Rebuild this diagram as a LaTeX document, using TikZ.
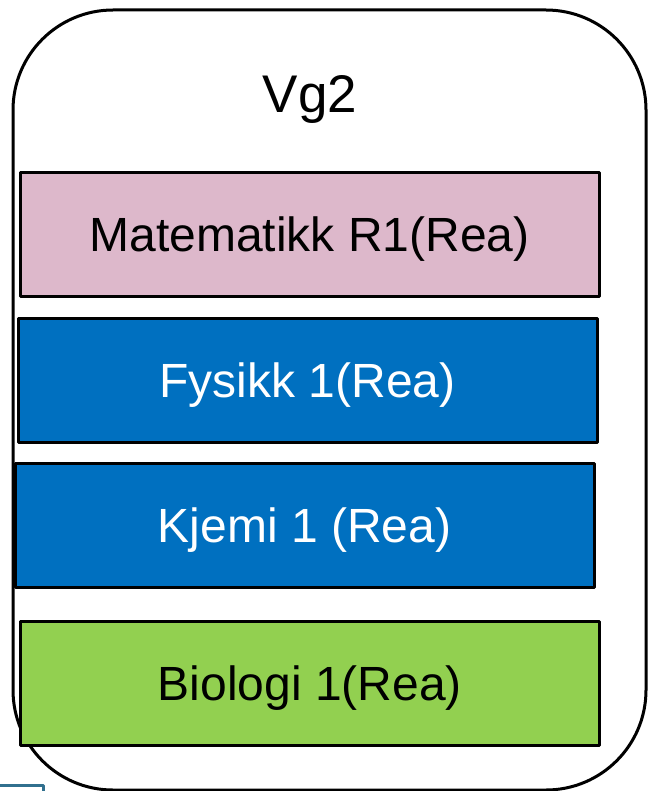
\documentclass[tikz,border=0pt]{standalone}
\usepackage{fontspec}
\setmainfont{Liberation Sans}
\usetikzlibrary{positioning}
\definecolor{rosa}{HTML}{DDB8CB}
\definecolor{realblaa}{HTML}{0070C0}
\definecolor{gronn}{HTML}{92D050}
\definecolor{petrol}{HTML}{31708E}

\begin{document}
\begin{tikzpicture}[line cap=round,line join=round,x=1pt,y=-1pt,
  fag/.style={draw=black, line width=3pt, minimum width=579pt, minimum height=124pt, inner sep=0pt, text depth=0pt, font=\fontsize{48}{58}\selectfont}]
\useasboundingbox (0,0) rectangle (648,791);

% Outer frame
\draw [line width=3pt, rounded corners=100pt] (13,10) rectangle (646,790);
\node [anchor=base, font=\fontsize{53}{63}\selectfont] (vg) at (310,113) {Vg2};

% Subjects
\node [fag, fill=rosa] (mat) at (309.5,234.5) {Matematikk R1(Rea)};
\node [fag, fill=realblaa, text=white] (fys) at (307.5,380.5) {Fysikk 1(Rea)};
\node [fag, fill=realblaa, text=white] (kje) at (304.5,525) {Kjemi 1 (Rea)};
\node [fag, fill=gronn] (bio) at (310,683.5) {Biologi 1(Rea)};

% Cut-off box at the bottom
\draw [line width=3pt, color=petrol] (-5,800) rectangle (43,785);
\end{tikzpicture}
\end{document}
